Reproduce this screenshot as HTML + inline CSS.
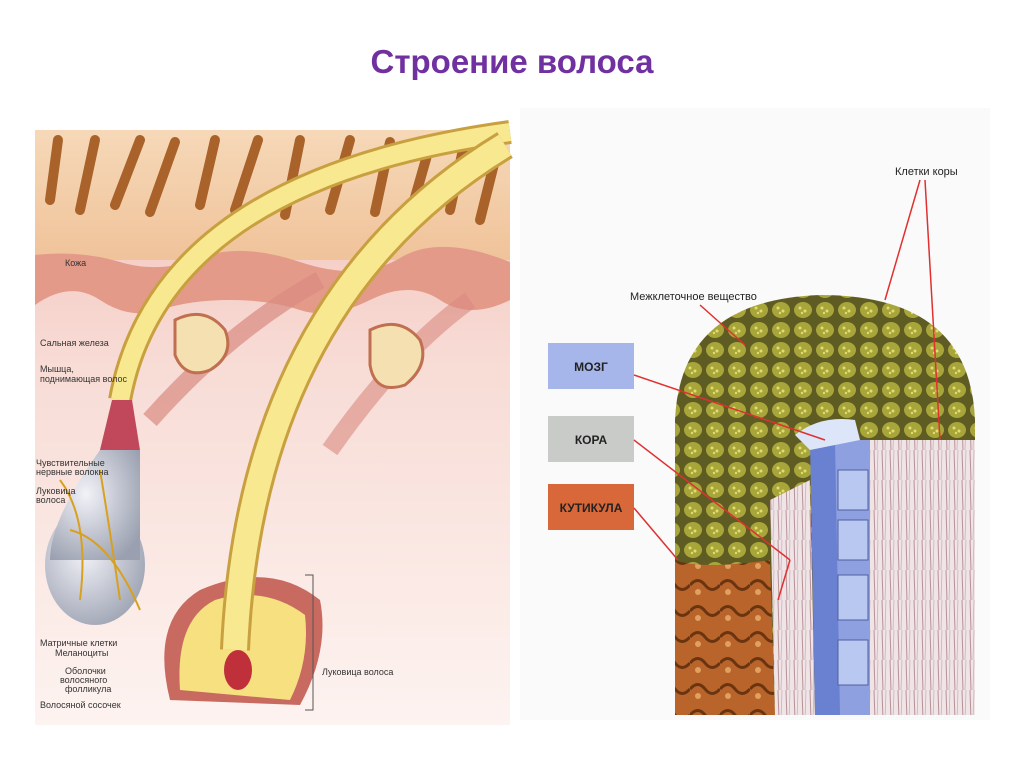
<!DOCTYPE html>
<html><head><meta charset="utf-8"><style>
html,body{margin:0;padding:0;background:#fff;}
body{width:1024px;height:767px;overflow:hidden;font-family:"Liberation Sans","Noto Sans CJK SC",sans-serif;}
</style></head><body>
<svg width="1024" height="767" viewBox="0 0 1024 767" xmlns="http://www.w3.org/2000/svg" font-family="Liberation Sans, Noto Sans CJK SC, sans-serif">
<defs>
<linearGradient id="sk" x1="0" y1="0" x2="0" y2="1">
<stop offset="0" stop-color="#f6d8b8"/><stop offset="1" stop-color="#f0c39a"/></linearGradient>
<linearGradient id="dm" x1="0" y1="0" x2="0" y2="1">
<stop offset="0" stop-color="#f2c0b8"/><stop offset="0.4" stop-color="#f8dcd6"/><stop offset="1" stop-color="#fdf3f0"/></linearGradient>
<radialGradient id="bulb" cx="0.4" cy="0.4" r="0.7"><stop offset="0" stop-color="#f2f2f8"/><stop offset="1" stop-color="#9aa0b0"/></radialGradient>
<pattern id="dots" width="22" height="20" patternUnits="userSpaceOnUse">
<rect width="22" height="20" fill="#5e5c22"/>
<ellipse cx="11" cy="10" rx="9" ry="8" fill="#a8a63a"/>
<circle cx="8" cy="8" r="1.5" fill="#e0dc70"/><circle cx="13" cy="11" r="1.5" fill="#e0dc70"/><circle cx="10" cy="13" r="1.2" fill="#e0dc70"/>
</pattern>
<pattern id="fib" width="8" height="30" patternUnits="userSpaceOnUse">
<rect width="8" height="30" fill="#efe4e6"/><line x1="2" y1="0" x2="3" y2="30" stroke="#b89098" stroke-width="1"/><line x1="6" y1="0" x2="5" y2="30" stroke="#d0b0b8" stroke-width="0.8"/></pattern>
<pattern id="cut" width="30" height="26" patternUnits="userSpaceOnUse">
<rect width="30" height="26" fill="#b8642a"/><path d="M0 13 Q8 4 15 13 T30 13" stroke="#6a3410" stroke-width="3" fill="none"/><circle cx="8" cy="20" r="3" fill="#e0a060"/></pattern>
</defs>
<text x="512" y="73" text-anchor="middle" font-size="33" font-weight="bold" fill="#7030a0">Строение волоса</text>

<rect x="35" y="130" width="475" height="595" fill="url(#dm)"/>
<rect x="35" y="130" width="475" height="130" fill="url(#sk)"/>
<path d="M35 255 Q80 250 120 262 T200 258 T300 262 T400 258 T510 262 L510 300 Q470 320 440 300 T370 300 T300 310 T230 300 T160 310 T100 300 T35 305 Z" fill="#e49a88"/>
<g stroke="#a8622a" stroke-width="10" stroke-linecap="round">
<line x1="50" y1="200" x2="58" y2="140"/><line x1="80" y1="210" x2="95" y2="140"/><line x1="115" y1="205" x2="140" y2="140"/>
<line x1="150" y1="212" x2="175" y2="142"/><line x1="200" y1="205" x2="215" y2="140"/><line x1="235" y1="210" x2="258" y2="140"/>
<line x1="285" y1="215" x2="300" y2="140"/><line x1="330" y1="210" x2="350" y2="140"/><line x1="375" y1="212" x2="390" y2="142"/>
<line x1="410" y1="215" x2="430" y2="145"/><line x1="450" y1="210" x2="465" y2="140"/><line x1="480" y1="220" x2="495" y2="160"/>
</g>
<path d="M150 420 Q230 330 320 280" stroke="#d88a80" stroke-width="18" fill="none" opacity="0.7"/>
<path d="M330 450 Q400 350 470 300" stroke="#d88a80" stroke-width="18" fill="none" opacity="0.6"/>
<path d="M175 320 q30 -15 50 10 q10 25 -15 40 q-25 10 -35 -15 z" fill="#f4e0b0" stroke="#c07050" stroke-width="3"/>
<path d="M370 330 q30 -15 50 10 q10 25 -15 45 q-30 10 -35 -20 z" fill="#f4e0b0" stroke="#c07050" stroke-width="3"/>
<path d="M170 700 Q150 620 200 590 Q270 560 320 600 Q330 650 300 705 Z" fill="#c86a60"/>
<path d="M180 690 Q175 620 215 600 Q265 585 305 615 Q310 660 290 700 Z" fill="#f6e080"/>
<path d="M120 400 Q160 180 510 132" stroke="#c8a040" stroke-width="24" fill="none"/>
<path d="M120 400 Q160 180 510 132" stroke="#f8e890" stroke-width="18" fill="none"/>
<path d="M235 650 Q250 300 505 145" stroke="#c8a040" stroke-width="30" fill="none"/>
<path d="M235 650 Q250 300 505 145" stroke="#f8e890" stroke-width="24" fill="none"/>
<path d="M112 400 L132 400 L140 450 L100 450 Z" fill="#c0485a"/>
<ellipse cx="95" cy="565" rx="50" ry="60" fill="url(#bulb)"/>
<path d="M100 450 Q50 520 50 560 L140 560 Q140 500 140 450 Z" fill="url(#bulb)"/>
<g stroke="#d8a020" stroke-width="2" fill="none"><path d="M60 480 Q90 520 80 600"/><path d="M100 470 Q110 530 120 600"/><path d="M70 530 Q110 540 140 610"/></g>
<ellipse cx="238" cy="670" rx="14" ry="20" fill="#c0303a"/>
<g fill="#333" font-size="9">
<text x="65" y="266">Кожа</text>
<text x="40" y="346">Сальная железа</text>
<text x="40" y="372">Мышца,</text><text x="40" y="382">поднимающая волос</text>
<text x="36" y="466">Чувствительные</text><text x="36" y="475">нервные волокна</text>
<text x="36" y="494">Луковица</text><text x="36" y="503">волоса</text>
<text x="40" y="646">Матричные клетки</text><text x="55" y="656">Меланоциты</text>
<text x="65" y="674">Оболочки</text><text x="60" y="683">волосяного</text><text x="65" y="692">фолликула</text>
<text x="40" y="708">Волосяной сосочек</text>
<text x="322" y="675">Луковица волоса</text>
</g>
<path d="M305 575 L313 575 L313 710 L305 710" stroke="#555" fill="none"/>

<rect x="520" y="108" width="470" height="612" fill="#fafafa"/>
<path d="M675 715 L675 420 Q680 300 820 295 Q970 295 975 420 L975 715 Z" fill="url(#dots)"/>
<path d="M675 560 Q700 570 770 560 L775 715 L675 715 Z" fill="url(#cut)"/>
<path d="M770 500 L810 480 L815 715 L775 715 Z" fill="url(#fib)"/>
<rect x="870" y="440" width="105" height="275" fill="url(#fib)"/>
<path d="M810 440 L870 440 L870 715 L815 715 Z" fill="#6a80d0"/>
<path d="M835 440 L870 440 L870 715 L840 715 Z" fill="#8ea0e0"/>
<path d="M795 435 Q820 415 855 420 L860 440 L810 450 Z" fill="#dce6f8"/>
<g fill="#b8c8f0" stroke="#5060a0" stroke-width="1"><rect x="838" y="470" width="30" height="40"/><rect x="838" y="520" width="30" height="40"/><rect x="838" y="575" width="30" height="45"/><rect x="838" y="640" width="30" height="45"/></g>
<rect x="548" y="343" width="86" height="46" fill="#a6b6ea"/>
<rect x="548" y="416" width="86" height="46" fill="#c8cbc8"/>
<rect x="548" y="484" width="86" height="46" fill="#d8673a"/>
<g font-size="12" font-weight="bold" fill="#222"><text x="591" y="371" text-anchor="middle">МОЗГ</text><text x="591" y="444" text-anchor="middle">КОРА</text><text x="591" y="512" text-anchor="middle">КУТИКУЛА</text></g>
<g stroke="#e03030" stroke-width="1.5"><line x1="634" y1="375" x2="825" y2="440"/><line x1="634" y1="440" x2="790" y2="560"/><line x1="634" y1="508" x2="678" y2="560"/>
<line x1="700" y1="305" x2="745" y2="345"/><line x1="920" y1="180" x2="885" y2="300"/><line x1="925" y1="180" x2="940" y2="440"/><line x1="790" y1="560" x2="778" y2="600"/></g>
<g font-size="11" fill="#222"><text x="630" y="300">Межклеточное вещество</text><text x="895" y="175">Клетки коры</text></g>
</svg>
</body></html>
